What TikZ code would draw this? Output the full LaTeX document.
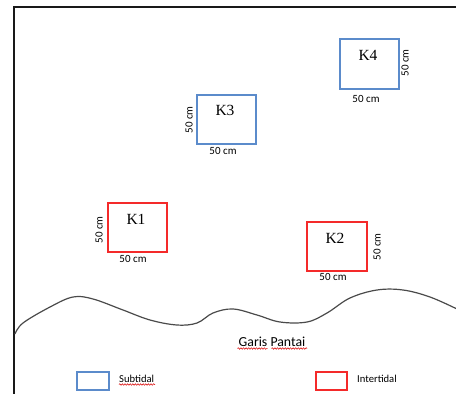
\documentclass[tikz,border=0pt]{standalone}
\usepackage{fontspec}
\setmainfont{Carlito}
\newfontfamily\timesf{Liberation Serif}
\usetikzlibrary{decorations.pathmorphing}
\definecolor{subblue}{HTML}{5B8BCB}
\definecolor{interred}{HTML}{F42A2A}
\definecolor{shoregray}{HTML}{4A4A4A}
\begin{document}
\begin{tikzpicture}[x=1pt,y=-1pt,
  frame/.style={line width=1.5pt,black!90},
  subbox/.style={draw=subblue,line width=1.5pt},
  interbox/.style={draw=interred,line width=1.5pt},
  klabel/.style={font=\timesf\fontsize{15.5}{16}\selectfont,inner sep=0pt},
  dimlabel/.style={font=\fontsize{11}{12}\selectfont,inner sep=0pt},
  dimrot/.style={dimlabel,rotate=90},
  shore/.style={draw=shoregray,line width=1.2pt},
  legendtext/.style={font=\fontsize{10.6}{11}\selectfont,inner sep=0pt,anchor=west},
  spell/.style={draw=red!85!black,line width=0.5pt,decorate,decoration={snake,amplitude=0.8pt,segment length=2.6pt}}
]
\useasboundingbox (0,0) rectangle (456,394);
% frame
\coordinate (fbl) at (14,394.5);
\coordinate (ftl) at (14,7);
\coordinate (ftr) at (456.5,7);
\draw[frame] (fbl) -- (ftl) -- (ftr);

% quadrats
\draw[subbox] (340,39) rectangle (399,89);
\node[klabel] (k4) at (368,55) {K4};
\node[dimrot] (k4v) at (405,63) {50 cm};
\node[dimlabel] (k4h) at (366,99) {50 cm};

\draw[subbox] (197,95) rectangle (256,144);
\node[klabel] (k3) at (225,110) {K3};
\node[dimrot] (k3v) at (189,120) {50 cm};
\node[dimlabel] (k3h) at (223,151) {50 cm};

\draw[interbox] (108,203) rectangle (167,252);
\node[klabel] (k1) at (136,219) {K1};
\node[dimrot] (k1v) at (99,230) {50 cm};
\node[dimlabel] (k1h) at (133,259) {50 cm};

\draw[interbox] (307,222) rectangle (367,271);
\node[klabel] (k2) at (335,238) {K2};
\node[dimrot] (k2v) at (377,247) {50 cm};
\node[dimlabel] (k2h) at (333,277) {50 cm};

% shoreline
\draw[shore] plot[smooth,tension=0.6] coordinates {
 (15,334) (23,323) (50,307) (73,297) (93,299) (123,310) (150,320) (177,325)
 (197,323) (213,313) (233,309) (257,315) (280,322) (307,322) (327,313)
 (350,298) (377,290) (403,290) (430,297) (457,309)};
\node[font=\fontsize{13.8}{14}\selectfont,inner sep=0pt] (garis) at (272,342) {Garis Pantai};
\draw[spell] (237.5,348.5) -- (267.5,348.5);
\draw[spell] (271.5,348.5) -- (307,348.5);

% legend
\draw[subbox] (77,372) rectangle (109,390);
\node[legendtext] (sub) at (119,379) {Subtidal};
\draw[spell] (119,384.5) -- (155,384.5);
\draw[interbox] (316,372) rectangle (347,390);
\node[legendtext] (inter) at (357,379) {Intertidal};
\end{tikzpicture}
\end{document}
